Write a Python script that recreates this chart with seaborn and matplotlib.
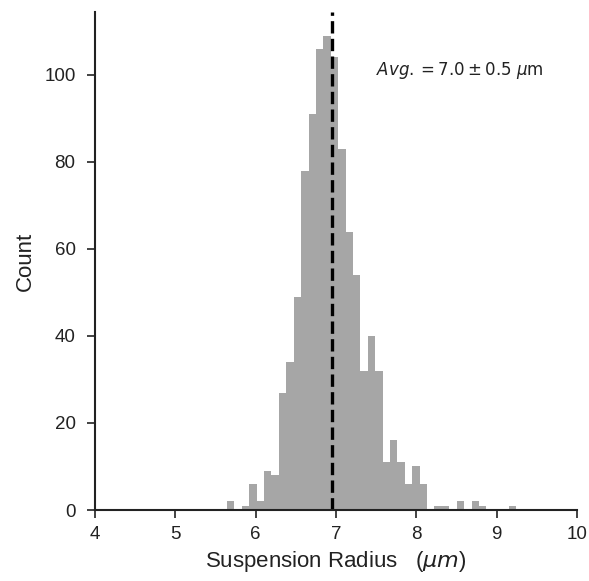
import numpy as np
import pandas as pd
import matplotlib
matplotlib.use("Agg")
import matplotlib.pyplot as plt
import seaborn as sns

# Histogram data (39 bins)
bin_start = 5.643
bin_end = 9.241
counts = [2, 0, 1, 6, 2, 9, 8, 27, 34, 49,
          78, 91, 106, 109, 104, 83, 64, 54, 32, 40,
          32, 11, 16, 11, 6, 10, 6, 0, 1, 1,
          0, 2, 0, 2, 1, 0, 0, 0, 1]
avg_value = 6.95
annotation = r'$\it{Avg.} = 7.0 \pm 0.5\ \mu$m'
xticks = [4, 5, 6, 7, 8, 9, 10]
yticks = [0, 20, 40, 60, 80, 100]

sns.set_theme(style="ticks")
plt.rcParams['font.family'] = ['Liberation Sans', 'DejaVu Sans']
plt.rcParams['mathtext.fontset'] = 'dejavusans'

edges = np.linspace(bin_start, bin_end, len(counts) + 1)
centers = (edges[:-1] + edges[1:]) / 2
df = pd.DataFrame({'radius': centers, 'count': np.array(counts, dtype=float)})

fig = plt.figure(figsize=(5.89, 5.81), dpi=100)
ax = fig.add_axes([0.1613, 0.1222, 0.8183, 0.8571])

sns.histplot(data=df, x='radius', weights='count', bins=list(edges), ax=ax,
             color='#a6a6a6', alpha=1.0, edgecolor='none', linewidth=0)

ax.axvline(avg_value, color='black', linestyle='--', linewidth=2.4)

ax.set_xlim(4, 10)
ax.set_xticks(xticks)
ax.set_yticks(yticks)
ax.tick_params(axis='both', labelsize=13.5, direction='out', length=5.5,
               width=1.2, color='#222222', labelcolor='#222222')
ax.tick_params(axis='x', pad=6)
ax.tick_params(axis='y', pad=8.5)
for s in ['left', 'bottom']:
    ax.spines[s].set_linewidth(1.5)
    ax.spines[s].set_color('#222222')
sns.despine(ax=ax)

ax.set_xlabel(r'Suspension Radius   ($\mu m$)', fontsize=16, color='#222222',
              labelpad=4)
ax.set_ylabel('Count', fontsize=16, color='#222222', labelpad=6)

ax.text(7.5, 101, annotation, fontsize=12, family='DejaVu Sans',
        va='center', ha='left', color='#222222')

fig.savefig('out.png', dpi=100)
